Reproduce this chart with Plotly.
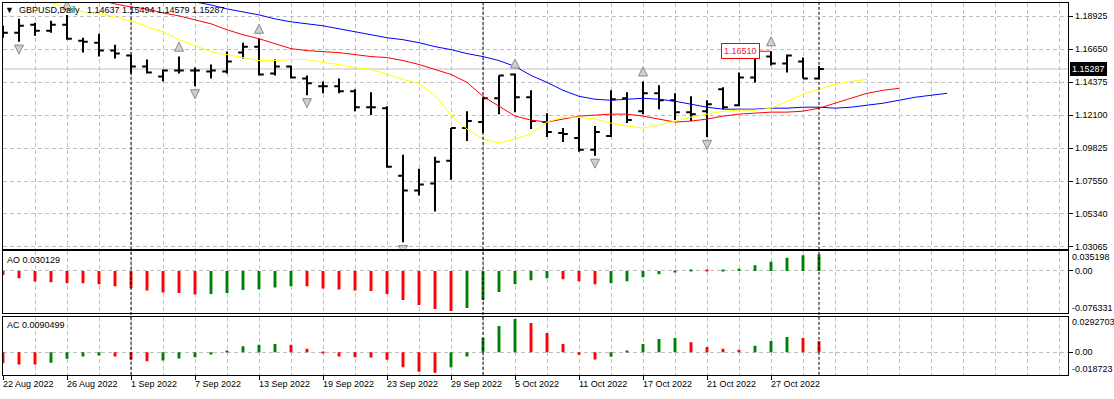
import plotly.graph_objects as go
import pandas as pd

W, H = 1114, 399
FONT = "Liberation Sans, Arial, sans-serif"

# ---------------- data ----------------
dates = pd.bdate_range("2022-08-22", "2022-11-01")

opens = [1.17715, 1.17783, 1.18330, 1.17920, 1.18330, 1.17237, 1.17100, 1.16553, 1.16211, 1.15459,
         1.14776, 1.15186, 1.15186, 1.15117, 1.15117, 1.16416, 1.16826, 1.14981, 1.15459, 1.14639,
         1.14092, 1.14092, 1.13750, 1.12656, 1.12588, 1.07940, 1.06914, 1.07393, 1.08965, 1.11221,
         1.11631, 1.13272, 1.14912, 1.13340, 1.11631, 1.10879, 1.10537, 1.09717, 1.10674, 1.13272,
         1.12383, 1.13613, 1.13135, 1.12315, 1.12383, 1.13887, 1.12793, 1.14707, 1.16143, 1.15664,
         1.15801, 1.14637]
highs = [1.18262, 1.18741, 1.18467, 1.18604, 1.19014, 1.17442, 1.17715, 1.16963, 1.16280, 1.15938,
         1.15254, 1.16143, 1.15391, 1.15596, 1.16485, 1.17100, 1.17373, 1.15938, 1.15528, 1.14844,
         1.14434, 1.14639, 1.13887, 1.13682, 1.12725, 1.09375, 1.08418, 1.09238, 1.11221, 1.12383,
         1.13340, 1.14844, 1.14981, 1.13819, 1.12246, 1.11221, 1.11905, 1.11358, 1.13819, 1.13682,
         1.14434, 1.14160, 1.13613, 1.13408, 1.13135, 1.14024, 1.15049, 1.16280, 1.16510, 1.16280,
         1.16074, 1.15494]
lows = [1.17442, 1.17168, 1.17578, 1.17783, 1.17305, 1.16416, 1.16143, 1.16006, 1.14981, 1.14981,
        1.14434, 1.14981, 1.14092, 1.14639, 1.14981, 1.16006, 1.14844, 1.14844, 1.14639, 1.13477,
        1.13613, 1.13613, 1.12383, 1.12110, 1.08486, 1.03360, 1.06572, 1.05479, 1.07666, 1.10332,
        1.10879, 1.12178, 1.12315, 1.11153, 1.10606, 1.10264, 1.09580, 1.09307, 1.10606, 1.11563,
        1.12178, 1.12520, 1.11768, 1.11699, 1.10606, 1.12520, 1.12725, 1.14365, 1.15528, 1.15049,
        1.14639, 1.14579]
closes = [1.17783, 1.18262, 1.17920, 1.18330, 1.17373, 1.17168, 1.16553, 1.16348, 1.15459, 1.15049,
          1.15186, 1.15186, 1.15186, 1.15186, 1.15801, 1.16826, 1.14912, 1.15459, 1.14707, 1.14297,
          1.14092, 1.13750, 1.12656, 1.12656, 1.08555, 1.06914, 1.07324, 1.08897, 1.11221, 1.11699,
          1.13272, 1.14844, 1.13340, 1.11699, 1.10947, 1.10811, 1.09717, 1.10947, 1.13203, 1.11768,
          1.13613, 1.13135, 1.12315, 1.12178, 1.12862, 1.12656, 1.14707, 1.16143, 1.15664, 1.16211,
          1.14639, 1.15287]

# Alligator lines (already shifted forward: lips +3, teeth +5, jaw +8 bars)
lips = [1.20586, 1.20313, 1.20039, 1.19834, 1.19561, 1.19219, 1.19082, 1.18877, 1.18604, 1.18194,
        1.17852, 1.17305, 1.16895, 1.16485, 1.16280, 1.16074, 1.15869, 1.15869, 1.15938, 1.15938,
        1.15732, 1.15596, 1.15391, 1.15254, 1.14912, 1.14570, 1.14297, 1.13477, 1.12110, 1.11153,
        1.10469, 1.10196, 1.10469, 1.10811, 1.11631, 1.11973, 1.11973, 1.11836, 1.11563, 1.11358,
        1.11221, 1.11426, 1.11699, 1.11973, 1.12178, 1.12383, 1.12451, 1.12451, 1.12588, 1.13066,
        1.13545, 1.13887, 1.14229, 1.14434, 1.14570]
teeth = [1.21406, 1.21133, 1.20860, 1.20655, 1.20450, 1.20244, 1.20039, 1.19766, 1.19561, 1.19424,
         1.19151, 1.18946, 1.18672, 1.18399, 1.17988, 1.17647, 1.17373, 1.17031, 1.16690, 1.16553,
         1.16485, 1.16416, 1.16280, 1.16143, 1.16074, 1.15869, 1.15596, 1.15254, 1.14912, 1.14365,
         1.13408, 1.12725, 1.12041, 1.11768, 1.11631, 1.11836, 1.12041, 1.12110, 1.12178, 1.12178,
         1.12041, 1.11836, 1.11631, 1.11699, 1.11836, 1.12041, 1.12178, 1.12246, 1.12315, 1.12315,
         1.12383, 1.12588, 1.12930, 1.13272, 1.13613, 1.13819, 1.13955]
jaw = [1.22090, 1.21885, 1.21680, 1.21475, 1.21270, 1.21065, 1.20928, 1.20791, 1.20655, 1.20518,
       1.20381, 1.20176, 1.19903, 1.19698, 1.19424, 1.19219, 1.19014, 1.18741, 1.18535, 1.18399,
       1.18262, 1.18057, 1.17852, 1.17647, 1.17442, 1.17305, 1.17100, 1.16826, 1.16621, 1.16348,
       1.16143, 1.15869, 1.15459, 1.14844, 1.14365, 1.13819, 1.13408, 1.13203, 1.13135, 1.13203,
       1.13272, 1.13203, 1.13066, 1.12862, 1.12656, 1.12520, 1.12520, 1.12520, 1.12588, 1.12588,
       1.12656, 1.12656, 1.12588, 1.12656, 1.12793, 1.12930, 1.13135, 1.13340, 1.13477, 1.13613]

ao = [-0.0072, -0.0131, -0.0192, -0.0202, -0.0220, -0.0222, -0.0238, -0.0274, -0.0310, -0.0353,
      -0.0388, -0.0399, -0.0424, -0.0417, -0.0399, -0.0345, -0.0328, -0.0299, -0.0274, -0.0276,
      -0.0317, -0.0335, -0.0353, -0.0363, -0.0417, -0.0524, -0.0614, -0.0686, -0.0721, -0.0668,
      -0.0524, -0.0381, -0.0238, -0.0166, -0.0131, -0.0149, -0.0184, -0.0238, -0.0220, -0.0184,
      -0.0113, -0.0059, -0.0013, 0.0023, 0.0021, 0.0024, 0.0041, 0.0102, 0.0166, 0.0238,
      0.0281, 0.030129]
ac = [-0.0092, -0.0101, -0.0102, -0.0087, -0.0055, -0.0035, -0.0027, -0.0035, -0.0060, -0.0076,
      -0.0068, -0.0052, -0.0043, -0.0019, 0.0008, 0.0049, 0.0060, 0.0068, 0.0060, 0.0027,
      -0.0011, -0.0035, -0.0043, -0.0044, -0.0063, -0.0125, -0.0161, -0.0169, -0.0125, -0.0035,
      0.0117, 0.0215, 0.0272, 0.0240, 0.0158, 0.0068, -0.0022, -0.0060, -0.0038, 0.0011,
      0.0068, 0.0109, 0.0117, 0.0082, 0.0043, 0.0027, 0.0019, 0.0052, 0.0092, 0.0125,
      0.0117, 0.0090499]

fractal_up = [4, 11, 16, 32, 40, 48]
fractal_down = [1, 12, 19, 25, 37, 44]

price_ticks = [1.18925, 1.16650, 1.14375, 1.12100, 1.09825, 1.07550, 1.05340, 1.03065]
date_labels = ["22 Aug 2022", "26 Aug 2022", "1 Sep 2022", "7 Sep 2022", "13 Sep 2022",
               "19 Sep 2022", "23 Sep 2022", "29 Sep 2022", "5 Oct 2022", "11 Oct 2022",
               "17 Oct 2022", "21 Oct 2022", "27 Oct 2022"]
ao_scale = [-0.076331, 0.035198]
ac_scale = [-0.018723, 0.0292703]
marked_high = 1.16510
marked_high_bar = 48

# ---------------- geometry (pixels) ----------------
def px(x):
    return x / W

def py(y):
    return 1 - y / H

X_LEFT, X_RIGHT = 2.7, 1068.3
BAR0_X, BAR_STEP = 3.0, 16.0
MAIN_T, MAIN_B = 2.7, 250.7
AO_T, AO_B = 253.3, 315.7
AC_T, AC_B = 319.0, 377.7

x_range = [(X_LEFT - BAR0_X) / BAR_STEP, (X_RIGHT - BAR0_X) / BAR_STEP]
price_range = [1.02901, 1.19855]
ppx = (price_range[1] - price_range[0]) / (MAIN_B - MAIN_T)  # price per pixel

idx = list(range(len(closes)))
date_str = [f"{d.day} {d.strftime('%b %Y')}" for d in dates]
date_idx = [date_str.index(s) for s in date_labels]
month_starts = [i for i in range(1, len(dates)) if dates[i].month != dates[i - 1].month]

RED, GREEN = "#FF0000", "#008000"

fig = go.Figure()

for vals, col in [(jaw, "#0000FF"), (teeth, "#FF0000"), (lips, "#FFFF00")]:
    fig.add_trace(go.Scatter(x=list(range(len(vals))), y=vals, mode="lines",
                             line=dict(color=col, width=1), xaxis="x", yaxis="y",
                             hoverinfo="skip", showlegend=False))

fig.add_trace(go.Ohlc(x=idx, open=opens, high=highs, low=lows, close=closes,
                      increasing=dict(line=dict(color="black", width=2)),
                      decreasing=dict(line=dict(color="black", width=2)),
                      tickwidth=0.3, xaxis="x", yaxis="y", hoverinfo="skip",
                      showlegend=False))

fig.add_trace(go.Scatter(x=fractal_up, y=[highs[i] + 14.5 * ppx for i in fractal_up],
                         mode="markers", xaxis="x", yaxis="y", hoverinfo="skip", showlegend=False,
                         marker=dict(symbol="arrow-up", size=9, color="#CFCFCF",
                                     line=dict(color="#8A8A8A", width=1))))
fig.add_trace(go.Scatter(x=fractal_down, y=[lows[i] - 12.5 * ppx for i in fractal_down],
                         mode="markers", xaxis="x", yaxis="y", hoverinfo="skip", showlegend=False,
                         marker=dict(symbol="arrow-down", size=9, color="#CFCFCF",
                                     line=dict(color="#8A8A8A", width=1))))

def hist_colors(v):
    return [RED] + [GREEN if v[i] > v[i - 1] else RED for i in range(1, len(v))]

fig.add_trace(go.Bar(x=idx, y=ao, width=0.18, marker=dict(color=hist_colors(ao), line=dict(width=0)),
                     xaxis="x2", yaxis="y2", hoverinfo="skip", showlegend=False))
fig.add_trace(go.Bar(x=idx, y=ac, width=0.18, marker=dict(color=hist_colors(ac), line=dict(width=0)),
                     xaxis="x3", yaxis="y3", hoverinfo="skip", showlegend=False))

grid = dict(showgrid=True, gridcolor="#C0C0C0", griddash="4px,3px", gridwidth=1)
frame = dict(showline=True, linecolor="black", linewidth=1, mirror=True, zeroline=False)
tfont = dict(family=FONT, size=9, color="black")
xdom = [px(X_LEFT), px(X_RIGHT)]

xcommon = dict(domain=xdom, range=x_range, tickmode="linear", tick0=0, dtick=2,
               showticklabels=False, ticks="", fixedrange=True, **grid, **frame)

fig.update_layout(
    width=W, height=H, autosize=False,
    margin=dict(l=0, r=0, t=0, b=0),
    paper_bgcolor="white", plot_bgcolor="white",
    showlegend=False, barmode="overlay",
    font=dict(family=FONT, size=9, color="black"),
    xaxis=dict(anchor="y", rangeslider=dict(visible=False), **xcommon),
    xaxis2=dict(anchor="y2", **xcommon),
    xaxis3=dict(anchor="y3", domain=xdom, range=x_range, tickmode="array", tickvals=date_idx,
                ticks="outside", ticklen=4, tickcolor="black", showticklabels=False,
                minor=dict(tickmode="linear", tick0=0, dtick=2, showgrid=True,
                           gridcolor="#C0C0C0", griddash="4px,3px", ticks=""),
                **grid, **frame),
    yaxis=dict(anchor="x", domain=[py(MAIN_B), py(MAIN_T)], range=price_range, side="right",
               tickmode="array", tickvals=price_ticks, ticktext=[f"{v:.5f}" for v in price_ticks],
               ticks="outside", ticklen=4, tickcolor="black", tickfont=tfont, **grid, **frame),
    yaxis2=dict(anchor="x2", domain=[py(AO_B), py(AO_T)], range=ao_scale, side="right",
                tickmode="array", tickvals=[0], ticktext=["0.00"], ticks="outside", ticklen=4,
                tickcolor="black", tickfont=tfont, **grid, **frame),
    yaxis3=dict(anchor="x3", domain=[py(AC_B), py(AC_T)], range=ac_scale, side="right",
                tickmode="array", tickvals=[0], ticktext=["0.00"], ticks="outside", ticklen=4,
                tickcolor="black", tickfont=tfont, **grid, **frame),
)

shapes = [dict(type="line", xref="paper", yref="y", x0=px(X_LEFT), x1=px(X_RIGHT),
               y0=closes[-1], y1=closes[-1], line=dict(color="#C0C0C0", width=1), layer="between")]
for m in month_starts:
    shapes.append(dict(type="line", xref="x", yref="paper", x0=m, x1=m, y0=py(AC_B), y1=py(MAIN_T),
                       line=dict(color="black", width=1, dash="3px,2px"), layer="above"))
shapes.append(dict(type="line", xref="x", yref="y", x0=marked_high_bar - 0.69, x1=marked_high_bar,
                   y0=marked_high, y1=marked_high, line=dict(color="#FF0000", width=1)))
fig.update_layout(shapes=shapes)

nb = "\u00a0"
ann = []
ann.append(dict(xref="paper", yref="paper", x=px(5), y=py(10), xanchor="left", yanchor="middle",
                text=f"▼{nb*2}GBPUSD,Daily{nb*3}{opens[-1]:.5f} {highs[-1]:.5f} {lows[-1]:.5f} {closes[-1]:.5f}",
                showarrow=False, font=dict(family=FONT, size=9, color="black"), borderpad=0, borderwidth=0))
ann.append(dict(xref="paper", yref="paper", x=px(7), y=py(261.7), xanchor="left", yanchor="middle",
                text=f"AO {ao[-1]:.6f}", showarrow=False, font=tfont, borderpad=0, borderwidth=0))
ann.append(dict(xref="paper", yref="paper", x=px(7), y=py(327.3), xanchor="left", yanchor="middle",
                text=f"AC {ac[-1]:.7f}", showarrow=False, font=tfont, borderpad=0, borderwidth=0))
for txt, yy in [(f"{ao_scale[1]:.6f}", 259), (f"{ao_scale[0]:.6f}", 310),
                (f"{ac_scale[1]:.7f}", 324), (f"{ac_scale[0]:.6f}", 372)]:
    ann.append(dict(xref="paper", yref="paper", x=px(1071.5), y=py(yy), xanchor="left",
                    yanchor="middle", text=txt, showarrow=False, font=tfont,
                    borderpad=0, borderwidth=0))
ann.append(dict(xref="paper", yref="y", x=px(1069.5), y=closes[-1], xanchor="left", yanchor="middle",
                text=f"{closes[-1]:.5f}", showarrow=False, bgcolor="black",
                font=dict(family=FONT, size=9, color="white"), borderpad=2, borderwidth=0))
ann.append(dict(xref="x", yref="y", x=marked_high_bar - 0.69, y=marked_high, xanchor="right",
                yanchor="middle", text=f"{marked_high:.5f}", showarrow=False, bgcolor="white",
                bordercolor="#FF0000", borderwidth=1, borderpad=2,
                font=dict(family=FONT, size=9, color="#F01848")))
for i, lab in zip(date_idx, date_labels):
    ann.append(dict(xref="x3", yref="paper", x=i, y=py(386.7), xanchor="left", yanchor="middle",
                    text=lab, showarrow=False, font=tfont, borderpad=0, borderwidth=0))
fig.update_layout(annotations=ann)

fig.write_html("out.html", config={"displayModeBar": False},
               post_script="document.body.style.margin='0px';document.body.style.padding='0px';"
                           "document.body.style.overflow='hidden';")
